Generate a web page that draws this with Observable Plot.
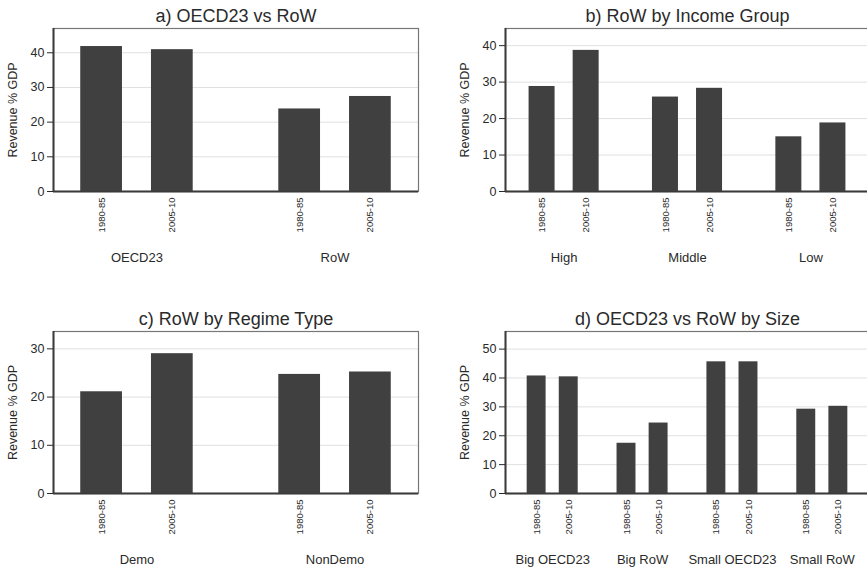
<!DOCTYPE html>
<html><head><meta charset="utf-8">
<script src="https://cdn.jsdelivr.net/npm/d3@7"></script>
<script src="https://cdn.jsdelivr.net/npm/@observablehq/plot@0.6"></script>
<style>
html,body{margin:0;padding:0;background:#fff;overflow:hidden}
#wrap{position:relative;width:867px;height:571px;overflow:hidden;background:#fff}
.panel{position:absolute;width:440px}
.panel svg{max-width:none !important;display:block}
</style></head><body>
<div id="wrap">
  <div class="panel" id="pa" style="left:0px;top:0px"></div>
  <div class="panel" id="pb" style="left:433px;top:0px"></div>
  <div class="panel" id="pc" style="left:0px;top:285px"></div>
  <div class="panel" id="pd" style="left:433px;top:285px"></div>
</div>
<script>
// ---- data ----
const periods = ["1980-85", "2005-10"];
const yLabel = "Revenue % GDP";

const titleA = "a) OECD23 vs RoW";
const groupsA = ["OECD23", "RoW"];
const a1980 = [41.8, 23.8];
const a2005 = [40.9, 27.4];
const yTicksA = [0, 10, 20, 30, 40];

const titleB = "b) RoW by Income Group";
const groupsB = ["High", "Middle", "Low"];
const b1980 = [28.8, 25.9, 15.0];
const b2005 = [38.7, 28.3, 18.8];
const yTicksB = [0, 10, 20, 30, 40];

const titleC = "c) RoW by Regime Type";
const groupsC = ["Demo", "NonDemo"];
const c1980 = [21.1, 24.7];
const c2005 = [29.0, 25.2];
const yTicksC = [0, 10, 20, 30];

const titleD = "d) OECD23 vs RoW by Size";
const groupsD = ["Big OECD23", "Big RoW", "Small OECD23", "Small RoW"];
const d1980 = [40.7, 17.4, 45.6, 29.2];
const d2005 = [40.4, 24.4, 45.6, 30.2];
const yTicksD = [0, 10, 20, 30, 40, 50];

// ---- layout ----
const FONT = "'Liberation Sans', Arial, Helvetica, sans-serif";
const STRIDE = 2.8;     // distance between groups (in bar steps)
const HALF = 0.295;     // half bar width (in bar steps)

function panel({title, groups, v1, v2, yMax, yTicks, width, height, mL, mR, mT, mB, outer}) {
  const rows = groups.flatMap((g, gi) => [v1, v2].map((vals, pi) => ({
    group: g, period: periods[pi], value: vals[gi], pos: gi * STRIDE + pi
  })));
  const labelMap = new Map(rows.map(d => [d.pos, d.period]));
  const xMax = (groups.length - 1) * STRIDE + 1 + outer;
  return Plot.plot({
    width, height,
    marginLeft: mL, marginRight: mR, marginTop: mT, marginBottom: mB,
    x: {domain: [-outer, xMax]},
    y: {domain: [0, yMax]},
    style: {fontFamily: FONT, color: "#2a2a2a", background: "white", overflow: "visible"},
    marks: [
      Plot.gridY(yTicks.filter(t => t > 0), {stroke: "#e0e0e0", strokeOpacity: 1, strokeWidth: 1}),
      Plot.rectY(rows, {x1: d => d.pos - HALF, x2: d => d.pos + HALF, y: "value", fill: "#404040"}),
      Plot.frame({stroke: "#777", strokeWidth: 1.2}),
      Plot.ruleY([0], {stroke: "#3a3a3a", strokeWidth: 2}),
      Plot.ruleX([-outer], {stroke: "#3a3a3a", strokeWidth: 2}),
      Plot.axisY(yTicks, {tickSize: 6, tickPadding: 3, fontSize: 12.5, label: yLabel,
        labelAnchor: "center", labelOffset: 45, labelArrow: "none"}),
      Plot.axisX(rows.map(d => d.pos), {tickFormat: p => labelMap.get(p), tickRotate: -90,
        tickSize: 0, tickPadding: 6, fontSize: 9.5, label: null}),
      Plot.text(groups, {x: (g, i) => i * STRIDE + 0.5, frameAnchor: "bottom", dy: 66,
        lineAnchor: "middle", fontSize: 13, text: d => d}),
      Plot.text([title], {frameAnchor: "top", dy: -12.5, lineAnchor: "middle", fontSize: 18, text: d => d})
    ]
  });
}

document.getElementById("pa").append(panel({title: titleA, groups: groupsA, v1: a1980, v2: a2005,
  yMax: 47, yTicks: yTicksA, width: 434, height: 285, mL: 53, mR: 16, mT: 28, mB: 94, outer: 0.68}));
document.getElementById("pb").append(panel({title: titleB, groups: groupsB, v1: b1980, v2: b2005,
  yMax: 44.7, yTicks: yTicksB, width: 440, height: 285, mL: 72, mR: 4, mT: 28, mB: 94, outer: 0.83}));
document.getElementById("pc").append(panel({title: titleC, groups: groupsC, v1: c1980, v2: c2005,
  yMax: 33.6, yTicks: yTicksC, width: 434, height: 286, mL: 53, mR: 16, mT: 46, mB: 78, outer: 0.68}));
document.getElementById("pd").append(panel({title: titleD, groups: groupsD, v1: d1980, v2: d2005,
  yMax: 56.1, yTicks: yTicksD, width: 440, height: 286, mL: 72, mR: 4, mT: 46, mB: 78, outer: 0.97}));
</script>
</body></html>
